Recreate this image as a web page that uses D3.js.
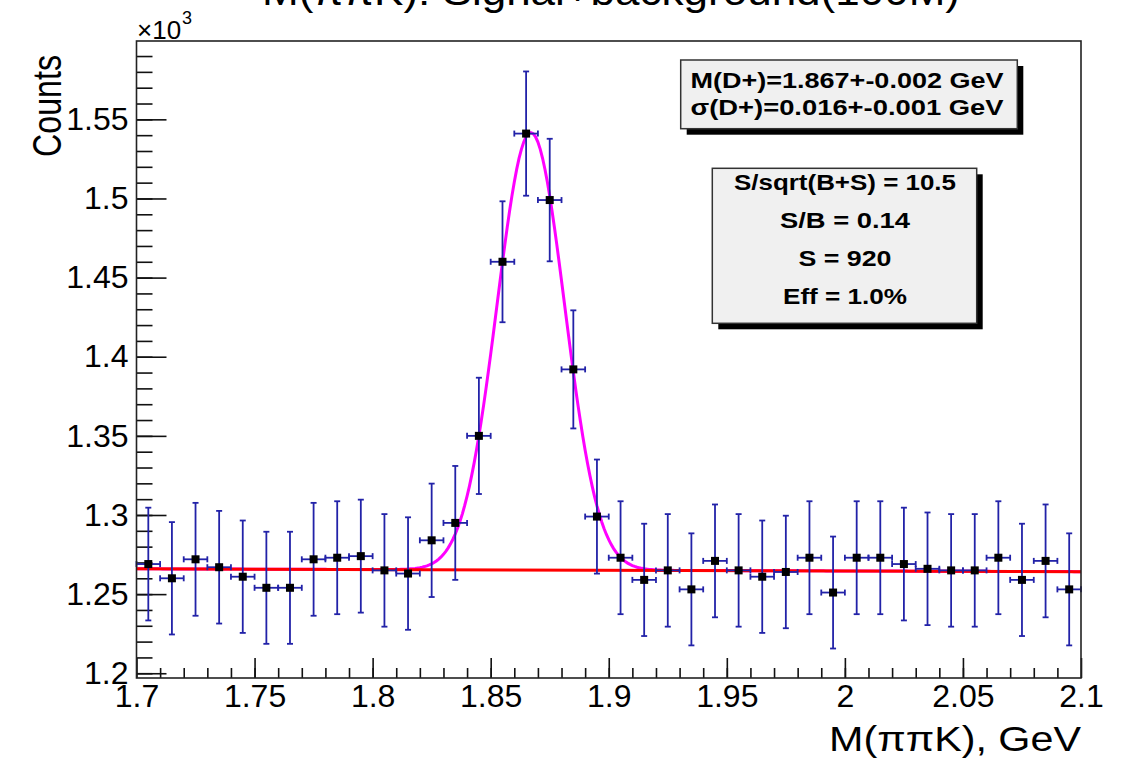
<!doctype html>
<html lang="en">
<head>
  <meta charset="utf-8">
  <title>M(ππK)</title>
  <script src="https://cdnjs.cloudflare.com/ajax/libs/d3/7.8.5/d3.min.js"></script>
  <style>
    body { margin: 0; background: #fff; }
    text { font-family: "Liberation Sans", Arial, Helvetica, sans-serif; }
  </style>
</head>
<body>
<div id="chart"></div>
<script>

// bin centres (GeV), bin width 0.01
var binCenters = [1.705, 1.715, 1.725, 1.735, 1.745, 1.755, 1.765, 1.775, 1.785, 1.795,
                  1.805, 1.815, 1.825, 1.835, 1.845, 1.855, 1.865, 1.875, 1.885, 1.895,
                  1.905, 1.915, 1.925, 1.935, 1.945, 1.955, 1.965, 1.975, 1.985, 1.995,
                  2.005, 2.015, 2.025, 2.035, 2.045, 2.055, 2.065, 2.075, 2.085, 2.095];
// counts per bin, errors are sqrt(N)
var counts = [1269, 1260, 1272, 1267, 1261, 1254, 1254, 1272, 1273, 1274,
              1265, 1263, 1284, 1295, 1350, 1460, 1541, 1499, 1392, 1299,
              1273, 1259, 1265, 1253, 1271, 1265, 1261, 1264, 1273, 1251,
              1273, 1273, 1269, 1266, 1265, 1265, 1273, 1259, 1271, 1253];

var xTicks = [1.7, 1.75, 1.8, 1.85, 1.9, 1.95, 2, 2.05, 2.1];
var yTicks = [1200, 1250, 1300, 1350, 1400, 1450, 1500, 1550];

// fit: gaussian (mean, sigma, amplitude) on a linear background (value at 1.7, at 2.1)
var gausFit = [1.867, 0.0143, 276.4];
var bkgFit = [1266.0, 1264.2];

var massLines = ["M(D+)=1.867+-0.002 GeV", "\u03c3(D+)=0.016+-0.001 GeV"];
var statLines = ["S/sqrt(B+S) = 10.5", "S/B = 0.14", "S = 920", "Eff = 1.0%"];

var W = 1127, H = 758;
var frame = {left: 136.5, right: 1081, top: 41, bottom: 678};

var svg = d3.select("#chart").append("svg")
    .attr("width", W)
    .attr("height", H);

svg.append("rect").attr("width", W).attr("height", H).attr("fill", "#fff");

var x = d3.scaleLinear().domain([1.7, 2.1]).range([frame.left, frame.right]);
var y = d3.scaleLinear().domain([1197, 1599.5]).range([frame.bottom, frame.top]);

// title, cut off by the top edge
svg.append("text")
    .attr("x", 611).attr("y", 5)
    .attr("text-anchor", "middle")
    .attr("font-size", 40)
    .attr("textLength", 698).attr("lengthAdjust", "spacingAndGlyphs")
    .text("M(\u03c0\u03c0K): Signal+background(100M)");

// minor ticks
var xMinor = d3.range(171, 210).map(function(d) { return d / 100; });
var yMinor = d3.range(120, 160).map(function(d) { return d * 10; });

svg.append("g")
    .attr("transform", "translate(0," + frame.bottom + ")")
    .call(d3.axisBottom(x).tickValues(xMinor).tickSizeInner(-10).tickSizeOuter(0).tickFormat(""))
    .call(function(g) { g.select(".domain").remove(); });

svg.append("g")
    .attr("transform", "translate(" + frame.left + ",0)")
    .call(d3.axisLeft(y).tickValues(yMinor).tickSizeInner(-16).tickSizeOuter(0).tickFormat(""))
    .call(function(g) { g.select(".domain").remove(); });

// x axis
var gx = svg.append("g")
    .attr("transform", "translate(0," + frame.bottom + ")")
    .call(d3.axisBottom(x).tickValues(xTicks).tickSizeInner(-20).tickSizeOuter(0)
      .tickPadding(6).tickFormat(d3.format("")));
gx.select(".domain").remove();
gx.selectAll("text").attr("font-size", 32).attr("fill", "#000");

// y axis
var gy = svg.append("g")
    .attr("transform", "translate(" + frame.left + ",0)")
    .call(d3.axisLeft(y).tickValues(yTicks).tickSizeInner(-30).tickSizeOuter(0)
      .tickPadding(8).tickFormat(function(d) { return d / 1000; }));
gy.select(".domain").remove();
gy.selectAll("text").attr("font-size", 32).attr("fill", "#000");

svg.selectAll(".tick line").attr("stroke", "#111").attr("stroke-width", 1.6);
svg.selectAll("g").attr("font-family", null);

// x10^3
svg.append("text").attr("x", 137).attr("y", 39).attr("font-size", 26).text("\u00d710");
svg.append("text").attr("x", 182).attr("y", 24).attr("font-size", 18).text("3");

// axis titles
svg.append("text")
    .attr("x", frame.right).attr("y", 751)
    .attr("text-anchor", "end")
    .attr("font-size", 35)
    .attr("textLength", 252).attr("lengthAdjust", "spacingAndGlyphs")
    .text("M(\u03c0\u03c0K), GeV");

svg.append("text")
    .attr("transform", "translate(61,55)rotate(-90)")
    .attr("text-anchor", "end")
    .attr("font-size", 40)
    .attr("textLength", 102).attr("lengthAdjust", "spacingAndGlyphs")
    .text("Counts");

// fit curves
function bkg(m) { return bkgFit[0] + (bkgFit[1] - bkgFit[0]) * (m - 1.7) / 0.4; }
function total(m) {
  var t = (m - gausFit[0]) / gausFit[1];
  return bkg(m) + gausFit[2] * Math.exp(-0.5 * t * t);
}
var grid = d3.range(0, 401).map(function(i) { return 1.7 + i * 0.001; });

svg.append("path")
    .datum(grid)
    .attr("fill", "none")
    .attr("stroke", "#ff00ff")
    .attr("stroke-width", 3)
    .attr("d", d3.line().x(function(d) { return x(d); }).y(function(d) { return y(total(d)); }));

svg.append("path")
    .datum([1.7, 2.1])
    .attr("fill", "none")
    .attr("stroke", "#ff0000")
    .attr("stroke-width", 3)
    .attr("d", d3.line().x(function(d) { return x(d); }).y(function(d) { return y(bkg(d)); }));

// data points with error bars
var pts = binCenters.map(function(c, i) { return {c: c, n: counts[i], e: Math.sqrt(counts[i])}; });
var blue = "#2222a8";
var pg = svg.append("g").attr("stroke", blue).attr("stroke-width", 1.8).attr("fill", "none");
var cap = 3;

pts.forEach(function(d) {
  var cx = x(d.c), cy = y(d.n);
  var x0 = x(d.c - 0.005), x1 = x(d.c + 0.005);
  var y0 = y(d.n - d.e), y1 = y(d.n + d.e);
  pg.append("line").attr("x1", x0).attr("x2", x1).attr("y1", cy).attr("y2", cy);
  pg.append("line").attr("x1", x0).attr("x2", x0).attr("y1", cy - cap).attr("y2", cy + cap);
  pg.append("line").attr("x1", x1).attr("x2", x1).attr("y1", cy - cap).attr("y2", cy + cap);
  pg.append("line").attr("x1", cx).attr("x2", cx).attr("y1", y0).attr("y2", y1);
  pg.append("line").attr("x1", cx - cap).attr("x2", cx + cap).attr("y1", y0).attr("y2", y0);
  pg.append("line").attr("x1", cx - cap).attr("x2", cx + cap).attr("y1", y1).attr("y2", y1);
});

svg.append("g").selectAll("rect")
    .data(pts)
    .enter()
    .append("rect")
      .attr("x", function(d) { return x(d.c) - 4; })
      .attr("y", function(d) { return y(d.n) - 4; })
      .attr("width", 8)
      .attr("height", 8)
      .attr("fill", "#000");

// frame
svg.append("rect")
    .attr("x", frame.left).attr("y", frame.top)
    .attr("width", frame.right - frame.left).attr("height", frame.bottom - frame.top)
    .attr("fill", "none").attr("stroke", "#222").attr("stroke-width", 1.6);

// stat boxes
function paveBox(bx, by, bw, bh) {
  svg.append("rect").attr("x", bx + 6).attr("y", by + 6).attr("width", bw).attr("height", bh).attr("fill", "#000");
  svg.append("rect").attr("x", bx).attr("y", by).attr("width", bw).attr("height", bh)
      .attr("fill", "#f0f0f0").attr("stroke", "#333").attr("stroke-width", 1.5);
}

paveBox(680.7, 60, 336.6, 68.7);
var massLen = [313, 313];
var massY = [88, 115];
massLines.forEach(function(t, i) {
  svg.append("text")
      .attr("x", 847).attr("y", massY[i])
      .attr("text-anchor", "middle")
      .attr("font-size", 22).attr("font-weight", "bold")
      .attr("textLength", massLen[i]).attr("lengthAdjust", "spacingAndGlyphs")
      .text(t);
});

paveBox(712.3, 168.3, 264.4, 155);
var statLen = [222, 130, 93, 124];
var statY = [190, 228, 266, 304];
statLines.forEach(function(t, i) {
  svg.append("text")
      .attr("x", 845).attr("y", statY[i])
      .attr("text-anchor", "middle")
      .attr("font-size", 22).attr("font-weight", "bold")
      .attr("textLength", statLen[i]).attr("lengthAdjust", "spacingAndGlyphs")
      .text(t);
});

</script>
</body>
</html>
